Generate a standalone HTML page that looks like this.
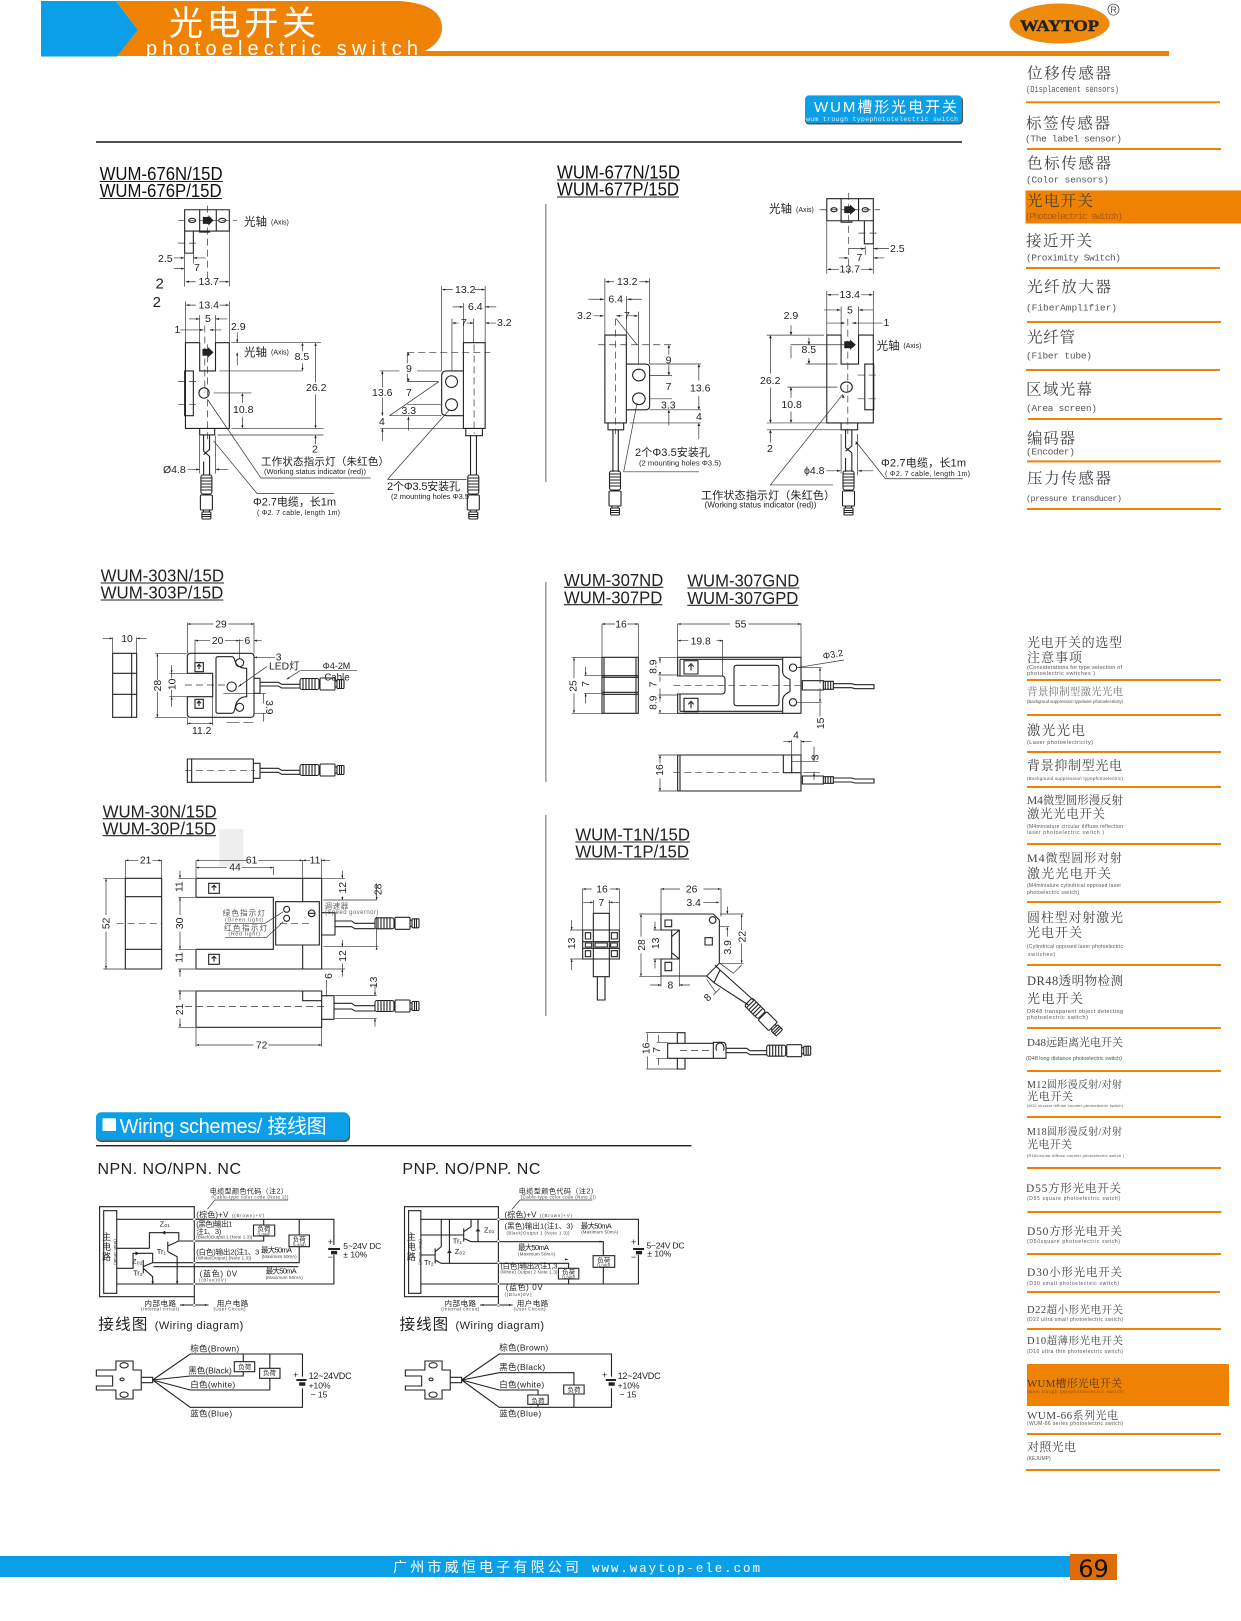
<!DOCTYPE html>
<html><head><meta charset="utf-8"><style>
html,body{margin:0;padding:0;background:#fff}
svg{display:block}
text{font-family:"Liberation Sans","Noto Sans CJK SC",sans-serif;fill:#222}
.l,.t,.d{fill:none;stroke:#222;stroke-width:1.1;vector-effect:non-scaling-stroke}
.t{stroke:#333;stroke-width:.7}
.d{stroke:#333;stroke-width:.7;stroke-dasharray:7 4}
.a{fill:#222;stroke:none}
.n{font-size:10.5px}
.c{text-anchor:middle}
.h{font-size:18px;fill:#111}
.z{font-size:31px}
.m{text-anchor:middle}
.s{font-family:"Liberation Serif","Noto Serif CJK SC",serif;fill:#444}
.b{font-family:"Liberation Mono",monospace;fill:#555;font-size:9.5px}
.q{font-size:5.5px;fill:#555}
.y{font-size:7.5px}.x{font-size:4.5px;fill:#444}
.g{fill:#777}
</style></head><body>
<svg xmlns="http://www.w3.org/2000/svg" width="1241" height="1621" viewBox="0 0 1241 1621">
<defs>
<g id="p"><rect class="l" x="-5.5" y="0" width="11" height="19" rx="2"/><path class="l" d="M-5.500 3h11M-5.500 6h11M-5.500 9h11M-5.500 12h11M-5.500 15h11"/><rect class="l" x="-6" y="20" width="12" height="15" rx="1"/><path class="l" d="M-3 35v2M3 35v2"/><rect class="l" x="-4.500" y="37" width="9" height="7" rx="1"/><path class="l" d="M-4.500 39.500h9M-4.500 41.500h9"/></g>
</defs>

<!-- header -->
<path d="M41 1H116L138 30L117 56.500H41Z" fill="#0a9fe6"/>
<path d="M116 1H400Q442 4 442 28Q442 42 425 51H1169V56H117L138 30Z" fill="#f08203"/>
<text x="169" y="35" font-size="34" style="fill:#fff" textLength="147">光电开关</text>
<text x="146" y="55" font-size="20" style="fill:#fff;font-family:'Liberation Sans'" textLength="272">photoelectric switch</text>
<ellipse cx="1059.500" cy="23.500" rx="50" ry="20" fill="#ee8a0c"/>
<text x="1020" y="31" style="font-family:'Liberation Serif';font-weight:bold;fill:#222;stroke:#222;stroke-width:.4" font-size="16" textLength="79" lengthAdjust="spacingAndGlyphs">WAYTOP</text>
<circle cx="1113.500" cy="9.600" r="5.500" fill="none" stroke="#555" stroke-width=".8"/><text x="1113.500" y="13" font-size="9" class="c" style="fill:#555">R</text>

<!-- badge -->
<rect x="805" y="96.500" width="158" height="28" rx="4" fill="#555"/>
<rect x="805" y="95.400" width="157" height="27.500" rx="4" fill="#0a9fe6"/>
<text x="814" y="112" font-size="15" style="fill:#fff" textLength="143">WUM槽形光电开关</text>
<text x="806" y="121" style="fill:#d6f0ff;font-family:'Liberation Mono'" font-size="6.500" textLength="152">wum trough typephototelectric switch</text>
<rect x="96" y="141.200" width="866" height="1.600" fill="#222"/>

<!-- titles -->
<text class="h" x="99.600" y="180" textLength="123" lengthAdjust="spacingAndGlyphs">WUM-676N/15D</text><path class="l" d="M99.600 181.500H223"/>
<text class="h" x="99.600" y="197" textLength="122" lengthAdjust="spacingAndGlyphs">WUM-676P/15D</text><path class="l" d="M99.600 198.500H222"/>
<text class="h" x="557" y="178.400" textLength="123" lengthAdjust="spacingAndGlyphs">WUM-677N/15D</text><path class="l" d="M557 180H680"/>
<text class="h" x="557" y="195.600" textLength="122" lengthAdjust="spacingAndGlyphs">WUM-677P/15D</text><path class="l" d="M557 197H679"/>
<path d="M545.800 204V482M545.800 582V782M545.800 815V1016" stroke="#999" stroke-width="1.500" fill="none"/>

<!-- 676 drawings -->
<g transform="scale(.3954,.3444)">
<path class="l" d="M467 609H580V671H467ZM505 609V671M547 609V671M505 671V674H530V671M467 671V735H489V671M469 995H505V1077H545V995H580V1244H469ZM505 1244V1263H543V1244M515 1263V1310L530 1325V1380M530 1263V1305L515 1320M515 1340V1380M467 1077H489V1207H467ZM503 1141a13 15 0 1 0 26 0a13 15 0 1 0-26 0M1172 995H1227V1244H1172ZM1178 1244V1265H1220V1244M1190 1265V1380M1205 1265V1380M1172 1077H1130Q1117 1077 1117 1090V1195Q1117 1207 1130 1207H1172M1127 1108a15 17 0 1 0 30 0a15 17 0 1 0-30 0M1127 1175a15 17 0 1 0 30 0a15 17 0 1 0-30 0M477 640a9 6 0 1 0 18 0a9 6 0 1 0-18 0M553 640a9 6 0 1 0 18 0a9 6 0 1 0-18 0"/>
<path class="d" d="M525 597V820M450 640H600M450 706H505M525 1000V1280M518 945V1140M450 1108H505M450 1175H505M1199 1000V1260M1030 1023H1240"/>
<path class="t" d="M467 735V832M580 671V832M489 735V765M440 749H465M490 749H520M440 780H465M470 818H495M555 818H578M469 875V995M580 875V995M470 886H495M555 886H578M505 915V995M545 915V995M478 926H505M545 926H575M455 958H515M530 958H560M600 965V995M585 995H812M600 1025V1060M555 1077H765M765 1000V1020M765 1055V1075M798 998V1110M798 1145V1240M540 1141H636M613 1145V1170M613 1210V1240M585 1244H818M550 1263H818M798 1265V1290M475 1363H505M545 1363H577M505 1265V1375M545 1265V1375M525 1160L660 1388H937M540 1280L650 1433H845M1117 830V1077M1227 830V995M1120 841H1145M1200 841H1225M1172 880V995M1145 891H1172M1227 891H1255M1143 925V1077M1145 938H1160M1180 938H1197M1198 925V995M1230 938H1255M1030 1023V1055M1055 1077H1117M1030 1085V1108H1110M1030 1175H1115M1030 1207H1117M985 1207H1117M962 1244H1172M960 1077H1010M967 1077V1125M967 1155V1207M967 1245V1280M1033 1210V1250M985 1207L1110 1108M980 1392L1135 1192M980 1392H1180"/>
<path class="a" d="M467 749l-9 -3v6zM489 749l9 -3v6zM467 780l-9 -3v6zM469 818l9 -3v6zM580 818l-9 -3v6zM470 886l9 -3v6zM580 886l-9 -3v6zM505 926l-9 -3v6zM545 926l9 -3v6zM515 958l-9 -3v6zM530 958l9 -3v6zM600 995l-3 -9h6zM600 1023l-3 9h6zM765 995l-3 9h6zM765 1077l-3 -9h6zM798 995l-3 9h6zM798 1244l-3 -9h6zM613 1141l-3 9h6zM613 1244l-3 -9h6zM798 1263l-3 9h6zM505 1363l-9 -3v6zM545 1363l9 -3v6zM1117 841l9 -3v6zM1227 841l-9 -3v6zM1172 891l-9 -3v6zM1227 891l9 -3v6zM1143 938l9 -3v6zM1198 938l-9 -3v6zM1227 938l9 -3v6zM1033 1023l-3 9h6zM1033 1108l-3 -9h6zM967 1077l-3 9h6zM967 1207l-3 -9h6zM967 1244l-3 9h6zM1033 1210l-3 9h6z"/>
<path fill="#222" d="M513 630h14v-5l13 15l-13 15v-5h-14zM512 1013h14v-5l14 15l-14 15v-5h-14z"/>
</g>
<use href="#p" x="206.400" y="475"/><use href="#p" x="473.300" y="475"/>
<g class="n">
<text x="244" y="225.500" font-size="11.500">光轴</text><text x="271" y="224.500" font-size="7">(Axis)</text>
<text x="158" y="262">2.5</text><text x="194" y="271">7</text><text x="198.500" y="285">13.7</text>
<text x="155.500" y="288.600" font-size="15">2</text><text x="152.600" y="307" font-size="15">2</text>
<text x="198.500" y="308.500">13.4</text><text x="205" y="322">5</text><text x="231" y="330">2.9</text><text x="174.500" y="333">1</text>
<text x="244" y="356" font-size="11.500">光轴</text><text x="271" y="354.700" font-size="7">(Axis)</text>
<text x="294.600" y="360">8.5</text><text x="306" y="391">26.2</text><text x="233" y="413">10.8</text><text x="312" y="452.500">2</text>
<text x="261" y="465" font-size="10.500" textLength="128">工作状态指示灯（朱红色）</text>
<text x="264" y="474" font-size="7" textLength="102" lengthAdjust="spacingAndGlyphs">(Working status indicator (red))</text>
<text x="163" y="473">Ø4.8</text>
<text x="387" y="490" font-size="11" textLength="73">2个Φ3.5安装孔</text>
<text x="391" y="499" font-size="7" textLength="78" lengthAdjust="spacingAndGlyphs">(2 mounting holes Φ3.5</text>
<text x="253" y="505.500" font-size="11" textLength="83">Φ2.7电缆，长1m</text>
<text x="257" y="515" font-size="7" textLength="83">( Φ2. 7 cable, length 1m)</text>
<text x="455" y="293">13.2</text><text x="468" y="310">6.4</text><text x="461" y="326">7</text><text x="497" y="326">3.2</text>
<text x="406" y="372">9</text><text x="406" y="396">7</text><text x="372" y="396">13.6</text><text x="401.500" y="414">3.3</text><text x="379" y="425">4</text>
</g>

<!-- 677 drawings -->
<g transform="translate(540,0) scale(.4474,.3444)">
<path class="l" d="M641 577H745V641H641ZM673 577V641M712 577V641M673 641V645H697V641M725 641V708H745V641M641 973H673V1057H712V973H745V1228H641ZM673 1228V1248H710V1228M683 1248V1300L697 1315V1370M697 1248V1295L683 1310M683 1330V1370M726 1057H746V1190H726ZM672 1124a13 15 0 1 0 26 0a13 15 0 1 0-26 0M145 973H193V1228H145ZM152 1228V1248H187V1228M163 1248V1370M175 1248V1370M193 1057H235Q245 1057 245 1067V1180Q245 1190 235 1190H193M207 1089a14 17 0 1 0 28 0a14 17 0 1 0-28 0M207 1158a14 17 0 1 0 28 0a14 17 0 1 0-28 0M650 609a7 6 0 1 0 14 0a7 6 0 1 0-14 0M720 609a7 6 0 1 0 14 0a7 6 0 1 0-14 0"/>
<path class="d" d="M690 560V795M625 609H760M712 677H760M710 1089H760M710 1158H760M688 925V1260M169 925V1260M130 1001H295"/>
<path class="t" d="M641 641V795M745 708V795M727 715V740M745 722H780M690 722H727M668 749H690M745 749H770M643 782H668M718 782H743M641 845V973M745 845V973M643 856H668M718 856H743M673 890V973M712 890V973M635 900H670M715 900H745M640 938H680M697 938H765M561 945V973M507 973H635M601 980V1000M594 1057H665M601 1040V1055M560 1001H680M561 1005V1040M515 980V1085M515 1125V1225M561 1125V1155M561 1195V1225M553 1124H665M507 1228H641M507 1248H673M515 1255V1285M640 1367H670M712 1367H745M673 1260V1375M710 1260V1380M677 1145L515 1408H655M706 1282L772 1390H945M145 808V973M245 808V1057M148 818H165M222 818H243M108 869H143M195 869H228M193 860V973M170 917H185M197 917H218M220 905V1057M120 917H143M170 925L217 1001M288 1005V1030M288 1060V1090M245 1057H360M245 1090H295M245 1158H295M245 1190H360M200 1228H360M355 1062V1105M355 1150V1188M355 1235V1275M288 1195V1235M217 1170L187 1370H355"/>
<path class="a" d="M745 722l9 -3v6zM727 722l-9 -3v6zM690 749l-9 -3v6zM745 749l9 -3v6zM641 782l9 -3v6zM745 782l-9 -3v6zM641 856l9 -3v6zM745 856l-9 -3v6zM673 900l-9 -3v6zM712 900l9 -3v6zM683 938l-9 -3v6zM697 938l9 -3v6zM561 973l-3 -9h6zM601 1001l-3 -9h6zM601 1057l-3 -9h6zM515 973l-3 9h6zM515 1228l-3 -9h6zM561 1124l-3 9h6zM561 1228l-3 -9h6zM515 1248l-3 9h6zM673 1367l-9 -3v6zM710 1367l9 -3v6zM145 818l9 -3v6zM245 818l-9 -3v6zM143 869l-9 -3v6zM195 869l9 -3v6zM170 917l9 -3v6zM220 917l-9 -3v6zM143 917l-9 -3v6zM288 1001l-3 9h6zM288 1090l-3 -9h6zM355 1057l-3 9h6zM355 1190l-3 -9h6zM355 1228l-3 9h6zM288 1190l-3 9h6zM677 1145l-2 9 6 2zM706 1282l-1 9 6 -2z"/>
<path fill="#222" d="M680 599h13v-5l13 15l-13 15v-5h-13zM680 991h13v-5l13 15l-13 15v-5h-13z"/>
</g>
<use href="#p" x="615" y="471"/><use href="#p" x="848.500" y="471"/>
<g class="n">
<text x="769" y="212.500" font-size="11.500">光轴</text><text x="796" y="212" font-size="7">(Axis)</text>
<text x="890" y="252">2.5</text><text x="856.500" y="261">7</text><text x="839.500" y="272.400">13.7</text><text x="839.500" y="298">13.4</text><text x="847" y="313.700">5</text><text x="883.500" y="326">1</text><text x="783.600" y="319">2.9</text>
<text x="876.600" y="349.500" font-size="11.500">光轴</text><text x="903.400" y="348" font-size="7">(Axis)</text>
<text x="801.500" y="353">8.5</text><text x="760" y="384">26.2</text><text x="781.400" y="408">10.8</text><text x="767" y="452">2</text><text x="804" y="474">ϕ4.8</text>
<text x="881" y="466.600" font-size="11" textLength="85">Φ2.7电缆，长1m</text><text x="885" y="476" font-size="7" textLength="85">( Φ2. 7 cable, length 1m)</text>
<text x="701" y="499" font-size="11" textLength="134">工作状态指示灯（朱红色）</text><text x="704.500" y="507.600" font-size="8" textLength="112" lengthAdjust="spacingAndGlyphs">(Working status indicator (red))</text>
<text x="617" y="285">13.2</text><text x="608.400" y="302.700">6.4</text><text x="577" y="319">3.2</text><text x="624" y="319">7</text>
<text x="665.600" y="363.600">9</text><text x="665.600" y="390">7</text><text x="690" y="391.500">13.6</text><text x="661" y="408.400">3.3</text><text x="696" y="420">4</text>
<text x="635" y="456" font-size="11" textLength="75">2个Φ3.5安装孔</text><text x="639" y="465.600" font-size="7" textLength="82" lengthAdjust="spacingAndGlyphs">(2 mounting holes Φ3.5)</text>
</g>

<!-- 303 / 30 -->
<g transform="translate(80,550) scale(.33333)">
<rect x="418" y="837" width="72" height="113" fill="#eee"/>
<text style="font-size:54px" x="62" y="95" textLength="370" lengthAdjust="spacingAndGlyphs">WUM-303N/15D</text><path class="l" d="M62 99H432"/>
<text style="font-size:54px" x="62" y="146" textLength="368" lengthAdjust="spacingAndGlyphs">WUM-303P/15D</text><path class="l" d="M62 150H430"/>
<text style="font-size:54px" x="68" y="802" textLength="342" lengthAdjust="spacingAndGlyphs">WUM-30N/15D</text><path class="l" d="M68 806H410"/>
<text style="font-size:54px" x="68" y="853" textLength="340" lengthAdjust="spacingAndGlyphs">WUM-30P/15D</text><path class="l" d="M68 857H408"/>
<path class="l" d="M98 310H170V502H98ZM155 310V502M98 370H170M98 433H170M322 370V320Q322 310 332 310H512Q522 310 522 320V492Q522 502 512 502H332Q322 502 322 492V440H398V370ZM408 325Q408 320 415 320H455Q462 320 464 330Q470 355 500 355V440Q470 440 465 475Q462 490 455 490H415Q408 490 408 485ZM522 385H540V430H522ZM540 397H595L605 403H660M540 408H595L605 414H660M467 338a12 12 0 1 0 24 0a12 12 0 1 0-24 0M467 472a12 12 0 1 0 24 0a12 12 0 1 0-24 0M441 410a14 14 0 1 0 28 0a14 14 0 1 0-28 0M345 338H370V365H345ZM345 448H370V475H345ZM357 358V345M351 350L357 343L363 350M357 468V455M351 460L357 453L363 460M322 627H520V697H322ZM335 627V697M520 640H540V685H520ZM540 655H595L605 661H660M540 667H595L605 673H660"/>
<path class="d" d="M315 405H440M315 662H525"/>
<path class="t" d="M322 218V310M522 218V310M325 222H400M445 222H520M345 268V340M478 268V325M345 272H390M435 272H478M490 272H478M522 272H545M68 265H95M170 265H200M98 262V310M170 262V310M522 322H585M225 310H320M225 502H320M232 313V390M232 425V500M268 370H322M268 440H322M275 345V385M275 420V470M322 502V525M398 440V525M325 520H398M430 430H558M520 490H558M550 430V460M550 490V515M440 518H478M490 518H520M475 410L560 350M620 388L660 362H832"/>
<path class="a" d="M322 222l9 -3v6zM522 222l-9 -3v6zM345 272l9 -3v6zM478 272l-9 -3v6zM522 272l9 -3v6zM98 265l-9 -3v6zM170 265l9 -3v6zM232 310l-3 9h6zM232 502l-3 -9h6zM275 370l-3 -9h6zM275 440l-3 9h6zM322 520l9 -3v6zM398 520l-9 -3v6zM475 410l9 -3 -2 -6zM620 388l8 -2 -3 -5zM522 322l9 -3v6z"/>
<g class="z">
<text class="m" x="423" y="233">29</text><text class="m" x="141" y="276">10</text><text class="m" x="413" y="282">20</text><text class="m" x="502" y="282">6</text><text class="m" x="596" y="332">3</text><text x="567" y="358">LED灯</text><text class="m" x="365" y="552">11.2</text>
<text class="m" transform="rotate(-90 243 407)" x="243" y="407">28</text><text class="m" transform="rotate(-90 286 403)" x="286" y="403">10</text><text class="m" transform="rotate(90 558 472)" x="558" y="472">3.9</text>
<text x="728" y="357" style="font-size:27px">Φ4-2M</text><text x="733" y="392" style="font-size:29px">Cable</text>
</g>
<path class="l" d="M136 985H245V1257H136ZM136 1040H245M136 1198H245M348 985H725V1257H348V1198H580V1042H348ZM668 985V1055M668 1185V1257M587 1055H718V1185H587ZM386 1000H418V1030H386ZM386 1213H418V1243H386ZM402 1022V1008M395 1013L402 1006L409 1013M402 1235V1221M395 1226L402 1219L409 1226M725 1088H765V1155H725ZM765 1113H815L825 1120H885M765 1130H815L825 1136H885M611 1078a9 9 0 1 0 18 0a9 9 0 1 0-18 0M611 1105a9 9 0 1 0 18 0a9 9 0 1 0-18 0M685 1090a10 10 0 1 0 20 0a10 10 0 1 0-20 0M685 1090H705M348 1323H725V1432H348ZM668 1323V1352H725M725 1337H762V1408H725ZM762 1360H815L825 1367H885M762 1377H815L825 1383H885"/>
<path class="d" d="M110 1120H245M600 1120H690M315 1370H740"/>
<path class="t" d="M136 930V985M245 930V985M138 931H175M218 931H245M70 985H136M70 1257H136M78 988V1095M78 1145V1255M348 930V985M668 930V985M350 931H500M535 931H668M350 953H440M485 953H580M580 950V975M690 931H668M725 925V985M725 931H750M295 985H345M295 1042H345M295 1198H345M295 1257H345M300 962V985M300 1042V1095M300 1145V1198M300 1257V1280M725 985H795M787 962V985M787 1040V1050M730 1050H890M890 1000V1050M730 1190H895M890 1190V1100M787 1170V1190M787 1240V1280M725 1257H795M610 1085L555 1120H435M610 1115L560 1162H435M765 1337H890M765 1405H890M885 1305V1335M885 1405V1430M740 1290V1340M295 1323H345M295 1432H345M300 1320V1350M300 1405V1432M348 1432V1490M725 1432V1490M350 1485H520M565 1485H725"/>
<path class="a" d="M136 931l9 -3v6zM245 931l-9 -3v6zM78 985l-3 9h6zM78 1257l-3 -9h6zM348 931l9 -3v6zM668 931l-9 -3v6zM348 953l9 -3v6zM580 953l-9 -3v6zM668 931l9 -3v6zM725 931l9 -3v6zM300 985l-3 -9h6zM300 1042l-3 9h6zM300 1198l-3 -9h6zM300 1257l-3 9h6zM787 985l-3 -9h6zM787 1050l-3 -9h6zM787 1190l-3 -9h6zM787 1257l-3 9h6zM890 1050l-3 -9h6zM890 1190l-3 9h6zM885 1337l-3 -9h6zM885 1405l-3 9h6zM300 1323l-3 9h6zM300 1432l-3 -9h6zM348 1485l9 -3v6zM725 1485l-9 -3v6z"/>
<g class="z">
<text class="m" x="197" y="941">21</text><text class="m" x="515" y="941">61</text><text class="m" x="465" y="962">44</text><text class="m" x="705" y="941">11</text><text class="m" x="545" y="1495">72</text>
<text class="m" transform="rotate(-90 88 1120)" x="88" y="1120">52</text><text class="m" transform="rotate(-90 307 1010)" x="307" y="1010">11</text><text class="m" transform="rotate(-90 309 1120)" x="309" y="1120">30</text><text class="m" transform="rotate(-90 307 1222)" x="307" y="1222">11</text>
<text class="m" transform="rotate(-90 798 1013)" x="798" y="1013">12</text><text class="m" transform="rotate(-90 904 1018)" x="904" y="1018">28</text><text class="m" transform="rotate(-90 798 1218)" x="798" y="1218">12</text>
<text class="m" transform="rotate(-90 891 1297)" x="891" y="1297">13</text><text class="m" transform="rotate(-90 756 1278)" x="756" y="1278">6</text><text class="m" transform="rotate(-90 309 1378)" x="309" y="1378">21</text>
<text x="733" y="1075" textLength="72" style="font-size:23px;fill:#666">调速器</text><text x="735" y="1092" textLength="160" style="font-size:18px;fill:#666">(Speed governor)</text>
<text x="428" y="1097" textLength="127" style="font-size:23px;fill:#555">绿色指示灯</text><text x="435" y="1115" textLength="115" style="font-size:16px;fill:#555">(Green light)</text>
<text x="432" y="1142" textLength="130" style="font-size:23px;fill:#555">红色指示灯</text><text x="445" y="1157" textLength="95" style="font-size:16px;fill:#555">(Red light)</text>
</g>
</g>
<g transform="translate(300,684) rotate(-90)"><use href="#p"/></g>
<g transform="translate(300,770) rotate(-90)"><use href="#p"/></g>
<g transform="translate(375,923.300) rotate(-90)"><use href="#p"/></g>
<g transform="translate(375,1006) rotate(-90)"><use href="#p"/></g>
<g transform="translate(766.700,1050.700) rotate(-90)"><use href="#p"/></g>
<g transform="translate(748.300,1001.700) rotate(-45)"><use href="#p"/></g>

<!-- 307 / T1 -->
<g transform="translate(540,560) scale(.33333)">
<text style="font-size:54px" x="72" y="78" textLength="298" lengthAdjust="spacingAndGlyphs">WUM-307ND</text><path class="l" d="M72 82H370"/>
<text style="font-size:54px" x="72" y="130" textLength="295" lengthAdjust="spacingAndGlyphs">WUM-307PD</text><path class="l" d="M72 134H367"/>
<text style="font-size:54px" x="442" y="80" textLength="336" lengthAdjust="spacingAndGlyphs">WUM-307GND</text><path class="l" d="M442 84H778"/>
<text style="font-size:54px" x="442" y="132" textLength="333" lengthAdjust="spacingAndGlyphs">WUM-307GPD</text><path class="l" d="M442 136H775"/>
<text style="font-size:54px" x="106" y="842" textLength="344" lengthAdjust="spacingAndGlyphs">WUM-T1N/15D</text><path class="l" d="M106 846H450"/>
<text style="font-size:54px" x="106" y="893" textLength="341" lengthAdjust="spacingAndGlyphs">WUM-T1P/15D</text><path class="l" d="M106 897H447"/>
<path class="l" d="M186 292H295V460H186ZM192 292V460M288 292V460M186 347H295M186 352H295M186 397H295M186 403H295M413 292H783V460H413V402H545Q555 402 555 392V358Q555 348 545 348H413ZM420 298H726M420 454H726M420 298V348M420 402V454M728 292V335Q728 350 750 358V395Q728 405 728 420V460M582 324Q582 316 590 316H709Q717 316 717 324V429Q717 437 709 437H590Q582 437 582 429ZM748 323a11 11 0 1 0 22 0a11 11 0 1 0-22 0M748 427a11 11 0 1 0 22 0a11 11 0 1 0-22 0M432 302H474V342H432ZM432 415H474V455H432ZM453 332V315M445 320L453 311L461 320M453 445V428M445 433L453 424L461 433M787 362H850V390H787ZM850 364H880V388H850ZM856 364V388M864 364V388M872 364V388M880 371H935L945 374H1002V386H945L935 383H880M413 585H783V693H413ZM420 585V693M730 585V638H783M755 585V640M787 648H850V672H787ZM850 650H880V670H850ZM856 650V670M864 650V670M872 650V670M880 654H935L945 657H1002V669H945L935 666H880M160 1060H208V1110H160ZM128 1110H238V1197H128ZM160 1197H208V1250H160ZM172 1250V1320H195V1250M160 1110V1197M208 1110V1197M128 1145H238M128 1165H238M136 1118H152V1137H136ZM214 1118H232V1137H214ZM136 1149H155V1161H136ZM165 1149H202V1161H165ZM212 1149H232V1161H212ZM136 1172H152V1190H136ZM214 1172H232V1190H214ZM363 1062H520L538 1080V1210L500 1248H363V1197H418V1110H363ZM395 1110V1197M395 1130L418 1110M395 1178L418 1197M375 1080H395V1100H375ZM375 1207H395V1232H375ZM508 1080a10 10 0 1 0 20 0a10 10 0 1 0-20 0M495 1133H517V1155H495ZM500 1248L522 1268L540 1230L525 1215M522 1268L625 1335M540 1230L640 1320M383 1450H520V1495H383ZM412 1418H435V1450H412ZM412 1495H435V1527H412ZM520 1447H548Q558 1447 558 1460V1495H520ZM530 1472a12 15 0 1 1 20 0M558 1465H620L630 1472H680M558 1478H620L630 1484H680"/>
<path class="d" d="M400 376H790M400 638H750M420 1472H510"/>
<path class="t" d="M186 190V292M295 190V292M188 192H225M262 192H295M95 292H186M95 460H186M102 295V355M102 400V458M132 347H186M132 400H186M137 320V345M137 402V430M413 190V292M783 190V292M415 192H570M625 192H783M415 242H445M530 242H548M548 240V350M355 292H413M355 345H413M355 405H413M355 460H413M360 295V310M360 340V345M360 350V365M360 385V405M360 410V425M360 450V460M770 323H845M770 427H845M840 323V370M840 385V427M840 430V470M770 323L912 300M355 585H413M355 693H413M360 585V610M360 655V693M730 545H755M783 545H815M755 540V640M783 540V640M755 605H835M822 560V600M822 635V660M790 638H840M128 985V1110M238 985V1110M130 987H155M210 987H238M160 1020V1060M208 1020V1060M130 1027H160M205 1027H238M90 1110H128M90 1197H128M95 1080V1110M95 1197V1230M363 985V1062M543 985V1070M365 987H420M490 987H541M490 1027H535M298 1062H363M298 1250H363M303 1065V1130M303 1180V1248M340 1110H363M340 1197H363M345 1085V1110M345 1197V1225M330 1275H363M418 1275H450M363 1248V1280M418 1197V1280M540 1062H610M605 1065V1110M605 1150V1208M540 1210H610M540 1100H568M562 1040V1060M562 1105V1130M540 1210L580 1240L605 1215M520 1305L540 1285M500 1258L528 1298M318 1418H412M318 1527H412M322 1420V1445M322 1490V1525M350 1447H383M350 1495H383M355 1425V1447M355 1495V1515"/>
<path class="a" d="M186 192l9 -3v6zM295 192l-9 -3v6zM102 292l-3 9h6zM102 460l-3 -9h6zM137 347l-3 -9h6zM137 400l-3 9h6zM413 192l9 -3v6zM783 192l-9 -3v6zM413 242l9 -3v6zM548 242l-9 -3v6zM360 292l-3 9h6zM360 345l-3 -9h6zM360 405l-3 9h6zM360 460l-3 -9h6zM840 323l-3 9h6zM840 427l-3 -9h6zM360 585l-3 9h6zM360 693l-3 -9h6zM755 545l-9 -3v6zM783 545l9 -3v6zM822 605l-3 -9h6zM822 638l-3 9h6zM128 987l9 -3v6zM238 987l-9 -3v6zM160 1027l-9 -3v6zM208 1027l9 -3v6zM95 1110l-3 -9h6zM95 1197l-3 9h6zM363 987l9 -3v6zM543 987l-9 -3v6zM538 1027l-9 -3v6zM303 1062l-3 9h6zM303 1250l-3 -9h6zM345 1110l-3 -9h6zM345 1197l-3 9h6zM363 1275l-9 -3v6zM418 1275l9 -3v6zM605 1062l-3 9h6zM605 1210l-3 -9h6zM562 1062l-3 -9h6zM562 1100l-3 9h6z"/>
<g class="z">
<text class="m" x="243" y="203">16</text><text class="m" x="602" y="203">55</text><text class="m" x="482" y="253">19.8</text><text class="m" x="768" y="536">4</text>
<text class="m" transform="rotate(-90 110 378)" x="110" y="378">25</text><text class="m" transform="rotate(-90 147 372)" x="147" y="372">7</text><text class="m" transform="rotate(-90 349 320)" x="349" y="320">8.9</text><text class="m" transform="rotate(-90 349 373)" x="349" y="373">7</text><text class="m" transform="rotate(-90 349 428)" x="349" y="428">8.9</text><text class="m" transform="rotate(-90 852 490)" x="852" y="490">15</text><text class="m" transform="rotate(-90 369 630)" x="369" y="630">16</text><text class="m" transform="rotate(-90 835 592)" x="835" y="592">3</text>
<text x="850" y="298" transform="rotate(-10 850 298)" style="font-size:28px">Φ3.2</text>
<text class="m" x="186" y="998">16</text><text class="m" x="184" y="1038">7</text><text class="m" x="455" y="998">26</text><text class="m" x="461" y="1038">3.4</text><text class="m" x="391" y="1286">8</text>
<text class="m" transform="rotate(-90 105 1150)" x="105" y="1150">13</text><text class="m" transform="rotate(-90 315 1155)" x="315" y="1155">28</text><text class="m" transform="rotate(-90 357 1150)" x="357" y="1150">13</text><text class="m" transform="rotate(-90 616 1130)" x="616" y="1130">22</text><text class="m" transform="rotate(-90 573 1162)" x="573" y="1162">3.9</text><text class="m" transform="rotate(-45 510 1320)" x="510" y="1320">8</text>
<text class="m" transform="rotate(-90 328 1465)" x="328" y="1465">16</text><text class="m" transform="rotate(-90 360 1470)" x="360" y="1470">7</text>
</g>
</g>

<!-- wiring -->
<rect x="96" y="1113.500" width="254" height="28.500" rx="5" fill="#555"/>
<rect x="96" y="1112.300" width="253" height="28" rx="5" fill="#0a9fe6"/>
<rect x="102.500" y="1118.300" width="13.500" height="12.700" fill="#fff"/>
<text x="119.600" y="1133" font-size="20" style="fill:#fff" textLength="207">Wiring  schemes/ 接线图</text>
<rect x="96" y="1145" width="595.400" height="1.400" fill="#222"/>
<text x="97.500" y="1174" font-size="16" textLength="143.500">NPN. NO/NPN. NC</text>
<text x="402.400" y="1174" font-size="16" textLength="138">PNP. NO/PNP. NC</text>

<g transform="translate(80,1100) scale(.4082,.33333)">
<path class="l" d="M48 320H280V590H48ZM58 332H90V580H58ZM90 358H622V435M622 465V552H90M280 320V620M280 423H450V408M425 375H477V408H425ZM450 358V375M512 405H562V440H512ZM537 358V405M537 440V488H280M90 445H170M170 445V398H242V423M215 438L242 423H280M215 425V455M215 455L238 470V552M238 552V470M90 505H130V460H178V488H280M155 500L178 488M155 480V520M155 505L178 530V552M180 500H535M245 615H315M1025 320H795V590H1025ZM805 332H835V580H805ZM835 358H1368V435M1368 465V552H835M1025 320V620M835 405H940M940 385V425M940 395L958 380V358M940 415L958 425H1282V467M1257 467H1310V502H1257ZM1282 502V552M835 465H870M870 445V490M870 455L885 440V358M870 480L885 490H1197V505M1172 505H1222V537H1172ZM1197 537V552M905 358V490M975 358V425M980 615H1060"/>
<path class="l" style="stroke-width:2" d="M608 447H637M1355 447H1382"/>
<path class="l" style="stroke-width:3.500" d="M615 458H630M1362 458H1377"/>
<path class="a" d="M238 552l-3 -9h6zM178 552l-3 -9h6zM245 615l9 -3v6zM315 615l-9 -3v6zM980 615l9 -3v6zM1060 615l-9 -3v6zM1282 425l-9 -3v6zM1197 478l-9 -3v6zM200 398l9 -6v12zM145 460l-9 -6v12zM975 385l-6 9h12zM905 450l-6 9h12z"/>
<g fill="#fff" stroke="#222"><ellipse cx="280" cy="358" rx="4" ry="3.500"/><ellipse cx="280" cy="423" rx="4" ry="3.500"/><ellipse cx="280" cy="488" rx="4" ry="3.500"/><ellipse cx="280" cy="552" rx="4" ry="3.500"/><ellipse cx="280" cy="615" rx="4" ry="3.500"/><ellipse cx="1025" cy="358" rx="4" ry="3.500"/><ellipse cx="1025" cy="423" rx="4" ry="3.500"/><ellipse cx="1025" cy="488" rx="4" ry="3.500"/><ellipse cx="1025" cy="552" rx="4" ry="3.500"/><ellipse cx="1025" cy="615" rx="4" ry="3.500"/></g>
<path class="t" d="M312 328L330 300H510M1058 328L1078 300H1255"/>
<!-- bottom wiring -->
<path class="l" d="M88 783H130V810H150V870H130V897H88V870H40V858H80V828H40V810H88ZM98 796a10 8 0 1 0 20 0a10 8 0 1 0-20 0M98 884a10 8 0 1 0 20 0a10 8 0 1 0-20 0M98 838a5 4 0 1 0 10 0a5 4 0 1 0-10 0M150 832H178V848H150M178 840L270 762H545V830M178 840L270 828H400V815M178 840L270 870H465V835M178 840L270 922H545V865M378 785H428V815H378ZM440 805H490V835H440ZM400 762V785M465 762V805M845 783H887V810H907V870H887V897H845V870H797V858H837V828H797V810H845ZM855 796a10 8 0 1 0 20 0a10 8 0 1 0-20 0M855 884a10 8 0 1 0 20 0a10 8 0 1 0-20 0M855 838a5 4 0 1 0 10 0a5 4 0 1 0-10 0M907 832H935V848H907M935 840L1027 762H1302V830M935 840L1027 818H1210V855M935 840L1027 870H1122V885M935 840L1027 922H1302V865M1185 855H1235V882H1185ZM1097 885H1147V913H1097ZM1210 882V922M1122 913V922"/>
<path class="l" style="stroke-width:2" d="M530 840H555M1288 840H1313"/>
<path class="l" style="stroke-width:3.500" d="M537 852H552M1295 852H1310"/>
</g>
<g>
<text class="y" x="209.800" y="1193.300" style="font-size:7px" textLength="78">电缆型颜色代码（注2）</text><text class="x" x="211.400" y="1198.700" textLength="77">(Cable-type color code (Note 2))</text>
<text class="y" x="196.300" y="1217.300" style="font-size:8px" textLength="32">(棕色)+V</text><text class="x" x="232" y="1217" textLength="32">((Brown)+V)</text>
<text class="y" x="196.300" y="1226.700" textLength="36">(黑色)输出1</text><text class="y" x="196.300" y="1234" textLength="25">注1、3)</text><text class="x" x="196.300" y="1238.700" textLength="56">(Black)Output 1 (Note 1.3))</text>
<text class="y" x="196.300" y="1254.300" textLength="63">(白色)输出2(注1、3</text><text class="y" x="261" y="1252.700" textLength="31">最大50mA</text><text class="x" x="196.300" y="1259.300" textLength="55">(White/Output) (Note 1.3))</text><text class="x" x="261.600" y="1258" textLength="35">(Maximum 50mA)</text>
<text class="y" x="199.600" y="1276.700" style="font-size:8px" textLength="37.500">(蓝色) 0V</text><text class="x" x="199" y="1281.700" textLength="27">((Blue)0V)</text>
<text class="y" x="265.700" y="1273.300" textLength="31">最大50mA</text><text class="x" x="265.700" y="1279" textLength="37">(Maximum 50mA)</text>
<text class="y" x="159.600" y="1226.700">Z₀₁</text><text class="y" x="132" y="1264">Z₀₂</text><text class="y" x="156.700" y="1254">Tr₁</text><text class="y" x="133" y="1275.700">Tr₂</text>
<text class="y c" x="264" y="1231" style="font-size:6.500px">负荷</text><text class="x c" x="264" y="1235.500">(Load)</text><text class="y c" x="299.200" y="1241.700" style="font-size:6.500px">负荷</text><text class="x c" x="299.200" y="1246">(Load)</text>
<text class="y c" x="106.500" y="1240" style="font-size:9px">主</text><text class="y c" x="106.500" y="1250" style="font-size:9px">电</text><text class="y c" x="106.500" y="1260" style="font-size:9px">路</text>
<text class="x c" transform="rotate(90 114 1252)" x="114" y="1252">(Main circuit)</text>
<text x="343.300" y="1249" font-size="8.500" textLength="38">5~24V DC</text><text x="343.300" y="1257.300" font-size="8.500">± 10%</text><text x="327.800" y="1245" font-size="9">+</text><text x="327.800" y="1260" font-size="9">−</text>
<text class="y" x="144.500" y="1306" textLength="31.500">内部电路</text><text class="x" x="141" y="1310.700" textLength="38">(Internal circuit)</text><text class="y" x="216.700" y="1306" textLength="31.500">用户电路</text><text class="x" x="213.500" y="1310.700" textLength="32">(User Circuit)</text>
<text x="98.400" y="1329.300" font-size="15.500" textLength="49">接线图</text><text x="154.700" y="1329" font-size="11" textLength="88.600">(Wiring diagram)</text>
<text x="190.200" y="1351.700" font-size="8.500" textLength="49">棕色(Brown)</text><text x="188.200" y="1373.300" font-size="8.500" textLength="43.700">黑色(Black)</text><text x="190.200" y="1387.700" font-size="8.500" textLength="45">白色(white)</text><text x="190.200" y="1416.700" font-size="8.500" textLength="42">蓝色(Blue)</text>
<text class="y c" x="244.700" y="1369" style="font-size:6.500px">负荷</text><text class="y c" x="269.500" y="1375" style="font-size:6.500px">负荷</text>
<text x="308.600" y="1379" font-size="9" textLength="43">12~24VDC</text><text x="308.600" y="1388.300" font-size="8.500">+10%</text><text x="310.600" y="1397.300" font-size="8.500">− 15</text><text x="293" y="1378" font-size="9">+</text>

<text class="y" x="518.800" y="1193.300" style="font-size:7px" textLength="79">电缆型颜色代码（注2）</text><text class="x" x="520.800" y="1198.700" textLength="75">(Cable-type color code (Note 2))</text>
<text class="y" x="504.500" y="1217.300" style="font-size:8px" textLength="32">(棕色)+V</text><text class="x" x="540" y="1217" textLength="32">((Brown)+V)</text>
<text class="y" x="504.500" y="1228.300" textLength="68.500">(黑色)输出1(注1、3)</text><text class="y" x="580.800" y="1228.300" textLength="31">最大50mA</text><text class="x" x="506.500" y="1234.300" textLength="63">(Black)Output 1 (Note 1.3))</text><text class="x" x="581.200" y="1233.700" textLength="37">(Maximum 50mA)</text>
<text class="y" x="518" y="1250" textLength="31">最大50mA</text><text class="x" x="518" y="1255.700" textLength="37">(Maximum 50mA)</text>
<text class="y" x="500.400" y="1268.300" textLength="57">(白色)输出2(注1,3</text><text class="x" x="500.400" y="1273.300" textLength="57">(White) Output 2 Note 1.3)</text>
<text class="y" x="505.700" y="1290" style="font-size:8px" textLength="37">(蓝色) 0V</text><text class="x" x="504.500" y="1296" textLength="27">((Blue)0V)</text>
<text class="y" x="484" y="1232.300">Z₀₁</text><text class="y" x="454.700" y="1254">Z₀₂</text><text class="y" x="452.700" y="1243.300">Tr₁</text><text class="y" x="424" y="1265">Tr₂</text>
<text class="y c" x="603.700" y="1262.300" style="font-size:6.500px">负荷</text><text class="x c" x="603.700" y="1266.500">(Load)</text><text class="y c" x="568.600" y="1274.300" style="font-size:6.500px">负荷</text><text class="x c" x="568.600" y="1278.500">(Load)</text>
<text class="y c" x="411.400" y="1240" style="font-size:9px">主</text><text class="y c" x="411.400" y="1250" style="font-size:9px">电</text><text class="y c" x="411.400" y="1260" style="font-size:9px">路</text>
<text class="x c" transform="rotate(90 419 1252)" x="419" y="1252">(Main circuit)</text>
<text x="646.500" y="1248.300" font-size="8.500" textLength="38">5~24V DC</text><text x="647.300" y="1256.700" font-size="8.500">± 10%</text><text x="631" y="1245" font-size="9">+</text><text x="631" y="1260" font-size="9">−</text>
<text class="y" x="444.500" y="1306" textLength="31.500">内部电路</text><text class="x" x="441.200" y="1310.700" textLength="38">(Internal circuit)</text><text class="y" x="516.700" y="1306" textLength="31.500">用户电路</text><text class="x" x="513.500" y="1310.700" textLength="32">(User Circuit)</text>
<text x="399.600" y="1329.300" font-size="15.500" textLength="48.600">接线图</text><text x="455.500" y="1329" font-size="11" textLength="88.600">(Wiring diagram)</text>
<text x="499.200" y="1350.700" font-size="8.500" textLength="49">棕色(Brown)</text><text x="499.200" y="1370" font-size="8.500" textLength="46">黑色(Black)</text><text x="499.200" y="1387.700" font-size="8.500" textLength="45">白色(white)</text><text x="499.200" y="1416.700" font-size="8.500" textLength="42">蓝色(Blue)</text>
<text class="y c" x="574" y="1392" style="font-size:6.500px">负荷</text><text class="y c" x="538" y="1403" style="font-size:6.500px">负荷</text>
<text x="617.600" y="1379" font-size="9" textLength="43">12~24VDC</text><text x="617.600" y="1388.300" font-size="8.500">+10%</text><text x="619.600" y="1397.300" font-size="8.500">− 15</text><text x="602" y="1378" font-size="9">+</text>
</g>

<!-- sidebar -->
<g fill="#f08203">
<rect x="1026" y="101.300" width="194" height="2"/><rect x="1027" y="148" width="194" height="2"/>
<rect x="1026" y="267" width="194" height="2"/><rect x="1027" y="321" width="194" height="2"/><rect x="1026" y="369" width="194" height="2"/><rect x="1028" y="418" width="194" height="2"/><rect x="1027" y="460.400" width="194" height="2"/><rect x="1027" y="508" width="194" height="2"/>
<rect x="1025.500" y="190.400" width="215.500" height="33.100"/>
<rect x="1027" y="679" width="194" height="2"/><rect x="1027" y="714" width="194" height="2"/><rect x="1027" y="751" width="194" height="2"/><rect x="1027" y="786" width="194" height="2"/><rect x="1027" y="843" width="194" height="2"/><rect x="1027" y="901" width="194" height="2"/><rect x="1027" y="964" width="194" height="2"/><rect x="1027" y="1027" width="194" height="2"/>
<rect x="1027" y="1070" width="194" height="2"/><rect x="1027" y="1116" width="194" height="2"/><rect x="1027" y="1167" width="194" height="2"/><rect x="1027.500" y="1211" width="194" height="2"/><rect x="1027" y="1253" width="194" height="2"/><rect x="1027" y="1291" width="193" height="2"/><rect x="1027" y="1328" width="194" height="2"/>
<rect x="1027" y="1364" width="202" height="42"/>
<rect x="1027" y="1433" width="194" height="2"/><rect x="1026" y="1469" width="194" height="2"/>
</g>
<g>
<text class="s" x="1027" y="78.500" font-size="15.500" textLength="84">位移传感器</text><text class="b" x="1026" y="92" textLength="93" lengthAdjust="spacingAndGlyphs">(Displacement sensors)</text>
<text class="s" x="1026" y="128.400" font-size="15.500" textLength="84">标签传感器</text><text class="b" x="1025" y="141.500" textLength="97">(The label sensor)</text>
<text class="s" x="1027" y="168.700" font-size="15.500" textLength="84">色标传感器</text><text class="b" x="1026" y="182.500" textLength="83">(Color sensors)</text>
<text class="s" x="1027" y="206" font-size="15.500" textLength="66" style="fill:#443">光电开关</text><text class="b" x="1025" y="219" textLength="98" style="fill:#a85a10">(Photoelectric switch)</text>
<text class="s" x="1026" y="246" font-size="15.500" textLength="66">接近开关</text><text class="b" x="1026" y="260.700" textLength="95">(Proximity Switch)</text>
<text class="s" x="1027" y="292" font-size="15.500" textLength="84">光纤放大器</text><text class="b" x="1026" y="310.600" textLength="91">(FiberAmplifier)</text>
<text class="s" x="1027" y="342.600" font-size="15.500" textLength="48">光纤管</text><text class="b" x="1026" y="358.500" textLength="66">(Fiber tube)</text>
<text class="s" x="1026" y="394.600" font-size="15.500" textLength="66">区域光幕</text><text class="b" x="1026" y="411" textLength="71">(Area screen)</text>
<text class="s" x="1027" y="443.500" font-size="15.500" textLength="48">编码器</text><text class="b" x="1026" y="454.500" textLength="49">(Encoder)</text>
<text class="s" x="1027" y="483.500" font-size="15.500" textLength="84">压力传感器</text><text class="b" x="1026" y="501" textLength="96" style="font-size:8.500px">(pressure transducer)</text>

<text class="s" x="1027" y="647" font-size="13" textLength="95">光电开关的选型</text><text class="s" x="1027" y="662" font-size="13" textLength="55">注意事项</text>
<text class="q" x="1027" y="669" textLength="95">(Considerations for type selection of</text><text class="q" x="1027" y="675" textLength="68">photoelectric switches )</text>
<text class="s" x="1027" y="695" font-size="10.500" textLength="96" style="fill:#777">背景抑制型激光光电</text><text class="q" x="1027" y="703" style="font-size:4.500px" textLength="96">(Backgroud suppression typelaser photoelectricity)</text>
<text class="s" x="1027" y="735" font-size="13.500" textLength="58">激光光电</text><text class="q" x="1027" y="744" textLength="66">(Laser photoelectricity)</text>
<text class="s" x="1027" y="770" font-size="13" textLength="95">背景抑制型光电</text><text class="q" x="1027" y="780" style="font-size:4.500px" textLength="96">(Backgound suppression typephotoelectric)</text>
<text class="s" x="1027" y="804" font-size="11.500" textLength="96">M4微型圆形漫反射</text><text class="s" x="1027" y="818" font-size="12.500" textLength="78">激光光电开关</text>
<text class="q" x="1027" y="828" style="font-size:5px" textLength="96">(M4miniature circular diffuse reflection</text><text class="q" x="1027" y="834" style="font-size:5px" textLength="77">laser photoelectric switch )</text>
<text class="s" x="1027" y="862" font-size="12" textLength="95">M4微型圆形对射</text><text class="s" x="1027" y="878" font-size="13" textLength="84">激光光电开关</text>
<text class="q" x="1027" y="887" style="font-size:5px" textLength="94">(M4miniature cylindrical opposed laser</text><text class="q" x="1027" y="894" style="font-size:5px" textLength="52">photoelectric switch)</text>
<text class="s" x="1027" y="922" font-size="13" textLength="96">圆柱型对射激光</text><text class="s" x="1027" y="937" font-size="13" textLength="55">光电开关</text>
<text class="q" x="1027" y="948" style="font-size:5px" textLength="96">(Cylindrical opposed laser photoelectric</text><text class="q" x="1028" y="956" style="font-size:5px" textLength="27">switches)</text>
<text class="s" x="1027" y="985" font-size="12.500" textLength="96">DR48透明物检测</text><text class="s" x="1027" y="1003" font-size="13" textLength="56">光电开关</text>
<text class="q" x="1027" y="1013" textLength="96">DR48 transparent object detecting</text><text class="q" x="1027" y="1019" textLength="61">photoelectric  switch)</text>

<text class="s" x="1027" y="1046" font-size="11" textLength="96">D48远距离光电开关</text><text class="q" x="1026" y="1060" textLength="96">(D48 long distance photoelectric switch)</text>
<text class="s" x="1027" y="1088" font-size="10" textLength="95">M12圆形漫反射/对射</text><text class="s" x="1027" y="1100" font-size="11" textLength="46">光电开关</text><text class="q" x="1027" y="1107" style="font-size:4px" textLength="96">(M12 circular diffuse counter photoelectric switch)</text>
<text class="s" x="1027" y="1135" font-size="10" textLength="95">M18圆形漫反射/对射</text><text class="s" x="1027" y="1148" font-size="11" textLength="45">光电开关</text><text class="q" x="1027" y="1157" style="font-size:4px" textLength="97">(R18circular diffuse counter photoelectric switch )</text>
<text class="s" x="1026" y="1192" font-size="11.500" textLength="95">D55方形光电开关</text><text class="q" x="1027" y="1200" style="font-size:5px" textLength="93">(D55 square photoelectric swtch)</text>
<text class="s" x="1027" y="1235" font-size="11.500" textLength="95">D50方形光电开关</text><text class="q" x="1027" y="1243" style="font-size:5px" textLength="93">(D50square photoelectric swtch)</text>
<text class="s" x="1027" y="1276" font-size="11.500" textLength="95">D30小形光电开关</text><text class="q" x="1027" y="1285" style="font-size:5px" textLength="92">(D30 small photoelecteic switch)</text>
<text class="s" x="1027" y="1313" font-size="10.500" textLength="96">D22超小形光电开关</text><text class="q" x="1027" y="1321" style="font-size:5px" textLength="96">(D22 ultra small photoelectric switch)</text>
<text class="s" x="1027" y="1344" font-size="10.500" textLength="96">D10超薄形光电开关</text><text class="q" x="1027" y="1353" style="font-size:5px" textLength="96">(D10 ultra thin photoelectric switch)</text>
<text class="s" x="1027" y="1387" font-size="11" textLength="95" style="fill:#4a3a20">WUM槽形光电开关</text><text class="q" x="1027" y="1393" style="font-size:4.500px;fill:#8a4a10" textLength="97">(wum trough typephototelectric switch)</text>
<text class="s" x="1027" y="1419" font-size="11" textLength="91">WUM-66系列光电</text><text class="q" x="1027" y="1425" style="font-size:5px" textLength="96">(WUM-66 series photoelectric switch)</text>
<text class="s" x="1027" y="1451" font-size="12" textLength="49">对照光电</text><text class="q" x="1027" y="1460" style="font-size:5px">(KEJUMP)</text>
</g>

<!-- footer -->
<rect x="0" y="1556" width="1070" height="21" fill="#0a9fe6"/>
<rect x="1070" y="1554" width="47" height="26" fill="#e06c08"/>
<text x="1093.500" y="1577" class="c" font-size="24" style="font-family:'DejaVu Sans';fill:#111">69</text>
<text x="393" y="1572" font-size="14" style="fill:#fff" textLength="186">广州市威恒电子有限公司</text>
<text x="592" y="1572" font-size="12.500" style="fill:#fff;font-family:'Liberation Mono'" textLength="168">www.waytop-ele.com</text>
</svg>
</body></html>
